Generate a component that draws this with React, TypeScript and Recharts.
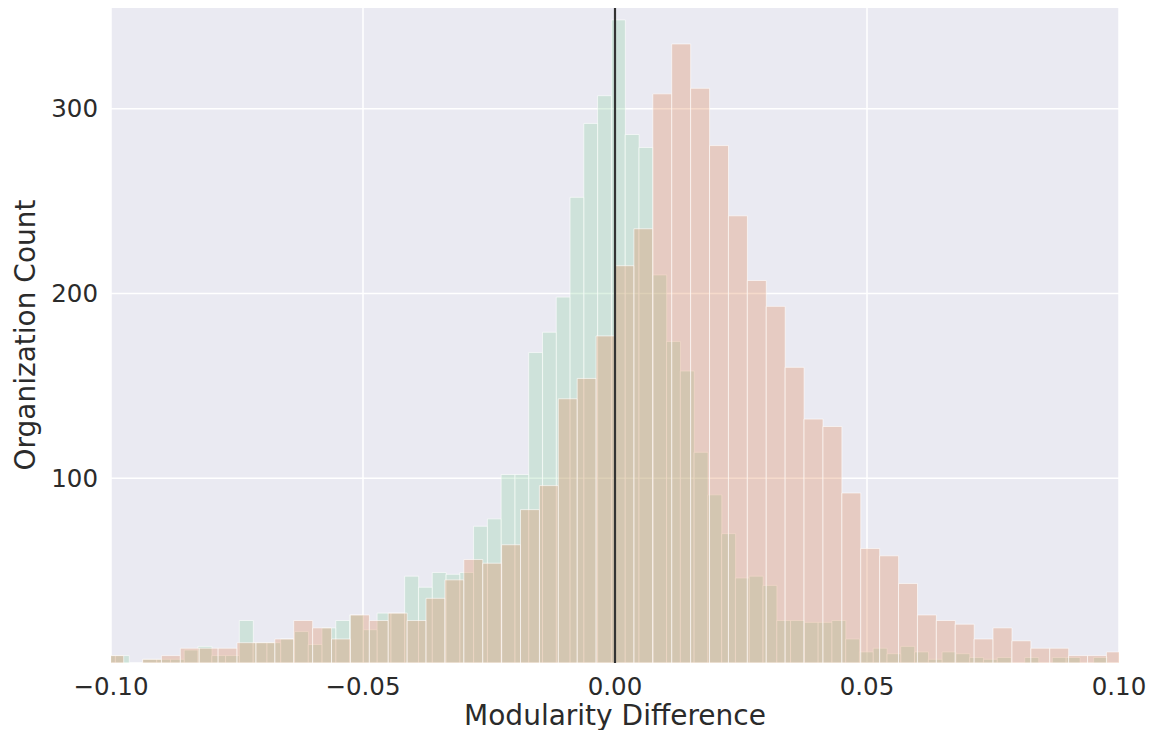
import React from 'react';
import { ComposedChart, Bar, XAxis, YAxis, CartesianGrid, ReferenceLine } from 'recharts';

// green histogram: 74 bins, narrow
const greenStart = -0.10188;
const greenWidth = 0.002734;
const greenCounts = [
  4, 4, 0, 2, 2, 2, 7, 9, 4, 4,
  23, 11, 11, 13, 17, 10, 19, 23, 26, 18,
  27, 27, 47, 41, 49, 48, 49, 74, 78, 102,
  102, 168, 179, 198, 252, 292, 307, 348, 286, 279,
  210, 174, 158, 114, 91, 70, 46, 47, 42, 23,
  23, 22, 22, 23, 13, 6, 8, 5, 9, 6,
  2, 6, 5, 3, 2, 3, 0, 3, 0, 3,
  3, 0, 3, 0,
];

// salmon histogram: 54 bins, wider
const salmonStart = -0.10125;
const salmonWidth = 0.00375;
const salmonCounts = [
  4, 0, 2, 4, 8, 8, 8, 11, 11, 13,
  23, 19, 13, 26, 23, 27, 23, 35, 45, 56,
  54, 64, 83, 96, 143, 154, 177,
  215, 235, 308, 335, 311, 280, 242, 207, 193, 160,
  132, 128, 92, 62, 58, 43, 26, 23, 21, 13,
  19, 12, 8, 8, 4, 4, 6,
];

const xTicks = [-0.1, -0.05, 0, 0.05, 0.1];
const yTicks = [100, 200, 300];
const xDomain: [number, number] = [-0.1, 0.1];
const yDomain: [number, number] = [0, 355];

const toBins = (start: number, width: number, counts: number[]) =>
  counts.map((c, i) => ({ x: start + (i + 0.5) * width, count: c }));

const greenBins = toBins(greenStart, greenWidth, greenCounts);
const salmonBins = toBins(salmonStart, salmonWidth, salmonCounts);

const W = 1156;
const H = 738;
const FONT = '"DejaVu Sans", sans-serif';
const TEXT = '#2b2b2b';

const fmtX = (v: number) => (v < 0 ? '\u2212' : '') + Math.abs(v).toFixed(2);

const App: React.FC = () => {
  const tickStyle = { fontSize: 24.5, fill: TEXT, fontFamily: FONT };
  const labelStyle = { fontSize: 28, fill: TEXT, fontFamily: FONT, textAnchor: 'middle' as const };

  return (
    <div style={{ position: 'relative', width: W, height: H, margin: -8, background: '#fff' }}>
      {/* bottom layer: axes, grid, green bars */}
      <div style={{ position: 'absolute', left: 0, top: 0 }}>
        <ComposedChart
          width={W}
          height={H}
          data={greenBins}
          margin={{ top: 7, right: 37, bottom: 0, left: 0 }}
          barCategoryGap={0}
          barGap={0}
        >
          <CartesianGrid fill="#eaeaf2" stroke="#ffffff" strokeWidth={1.5} />
          <XAxis
            dataKey="x"
            type="number"
            domain={xDomain}
            allowDataOverflow
            ticks={xTicks}
            tickFormatter={fmtX}
            height={75}
            tickLine={false}
            axisLine={false}
            tickSize={0}
            tickMargin={15}
            tick={tickStyle}
            label={{ value: 'Modularity Difference', position: 'insideBottom', offset: 13, style: labelStyle }}
          />
          <YAxis
            type="number"
            domain={yDomain}
            allowDataOverflow
            ticks={yTicks}
            width={111}
            tickLine={false}
            axisLine={false}
            tickSize={0}
            tickMargin={13}
            tick={tickStyle}
            label={{ value: 'Organization Count', angle: -90, position: 'insideLeft', offset: 25, style: labelStyle }}
          />
          <Bar
            dataKey="count"
            fill="#8fd2a2"
            fillOpacity={0.3}
            stroke="#ffffff"
            strokeOpacity={0.6}
            strokeWidth={1}
            isAnimationActive={false}
          />
        </ComposedChart>
      </div>
      {/* top layer: salmon bars and zero line */}
      <div style={{ position: 'absolute', left: 0, top: 0 }}>
        <ComposedChart
          width={W}
          height={H}
          data={salmonBins}
          margin={{ top: 7, right: 37, bottom: 75, left: 111 }}
          barCategoryGap={0}
          barGap={0}
        >
          <XAxis dataKey="x" type="number" domain={xDomain} allowDataOverflow hide />
          <YAxis type="number" domain={yDomain} allowDataOverflow hide />
          <Bar
            dataKey="count"
            fill="#dd8452"
            fillOpacity={0.3}
            stroke="#ffffff"
            strokeOpacity={0.6}
            strokeWidth={1}
            isAnimationActive={false}
          />
          <ReferenceLine x={0} stroke="#333333" strokeWidth={2.2} />
        </ComposedChart>
      </div>
    </div>
  );
};

export default App;
